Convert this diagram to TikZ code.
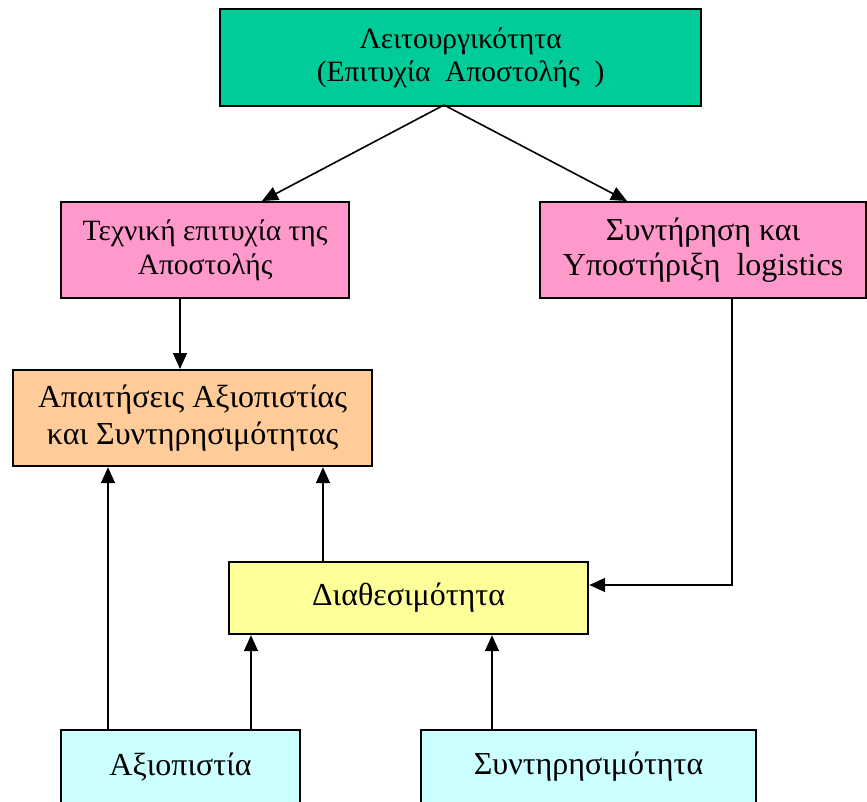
\documentclass[tikz,border=0pt]{standalone}
\usepackage{fontspec}
\setmainfont{Liberation Serif}
\usetikzlibrary{arrows.meta}
\definecolor{topgreen}{HTML}{00CC99}
\definecolor{boxpink}{HTML}{FF99CC}
\definecolor{boxorange}{HTML}{FFCC99}
\definecolor{boxyellow}{HTML}{FFFF99}
\definecolor{boxcyan}{HTML}{CCFFFF}
\begin{document}
\begin{tikzpicture}[x=1pt,y=-1pt,
  blk/.style={draw=black,line width=2.2pt,inner sep=0pt,align=center,text=black},
  link/.style={draw=black,line width=1.6pt,-{Triangle[length=16pt,width=14pt]}}]
\useasboundingbox (0,0) rectangle (867,801);
% boxes, placed by their corners
\node[blk,fill=topgreen,minimum width=481pt,minimum height=97pt,
      font=\fontsize{29.5}{33}\selectfont,anchor=north west] (top) at (219,8)
      {Λειτουργικότητα\\(Επιτυχία\ \ Αποστολής\ \ )};
\node[blk,fill=boxpink,minimum width=288pt,minimum height=96pt,
      font=\fontsize{29.5}{34}\selectfont,anchor=north west] (tech) at (60,201)
      {Τεχνική επιτυχία της\\Αποστολής};
\node[blk,fill=boxpink,minimum width=326pt,minimum height=96pt,
      font=\fontsize{32}{35}\selectfont,anchor=north west] (supp) at (539,201)
      {Συντήρηση και\\Υποστήριξη\ \ logistics};
\node[blk,fill=boxorange,minimum width=359pt,minimum height=96pt,
      font=\fontsize{32}{37}\selectfont,anchor=north west] (req) at (12,369)
      {Απαιτήσεις Αξιοπιστίας\\και Συντηρησιμότητας};
\node[blk,fill=boxyellow,minimum width=359pt,minimum height=72pt,
      font=\fontsize{32}{36}\selectfont,anchor=north west] (avail) at (228,561)
      {Διαθεσιμότητα};
\node[blk,fill=boxcyan,minimum width=239pt,minimum height=74pt,
      font=\fontsize{32}{36}\selectfont,anchor=north west] (rel) at (60,729)
      {Αξιοπιστία};
\node[blk,fill=boxcyan,minimum width=335pt,minimum height=74pt,
      font=\fontsize{32}{36}\selectfont,anchor=north west] (mnt) at (420,729)
      {Συντηρησιμότητα};
% connection points
\coordinate (topout) at (444,105);
\coordinate (corner) at (732,585);
% connectors
\draw[link] (topout) -- (tech.north west -| 262,0);
\draw[link] (topout) -- (supp.north west -| 627,0);
\draw[link] (tech.south west -| 180,0) -- (req.north west -| 180,0);
\draw[link] (supp.south west -| 732,0) -- (corner) -- (avail.east |- corner);
\draw[link] (avail.north west -| 323,0) -- (req.south west -| 323,0);
\draw[link] (rel.north west -| 108,0) -- (req.south west -| 108,0);
\draw[link] (rel.north west -| 251,0) -- (avail.south west -| 251,0);
\draw[link] (mnt.north west -| 492,0) -- (avail.south west -| 492,0);
\end{tikzpicture}
\end{document}
